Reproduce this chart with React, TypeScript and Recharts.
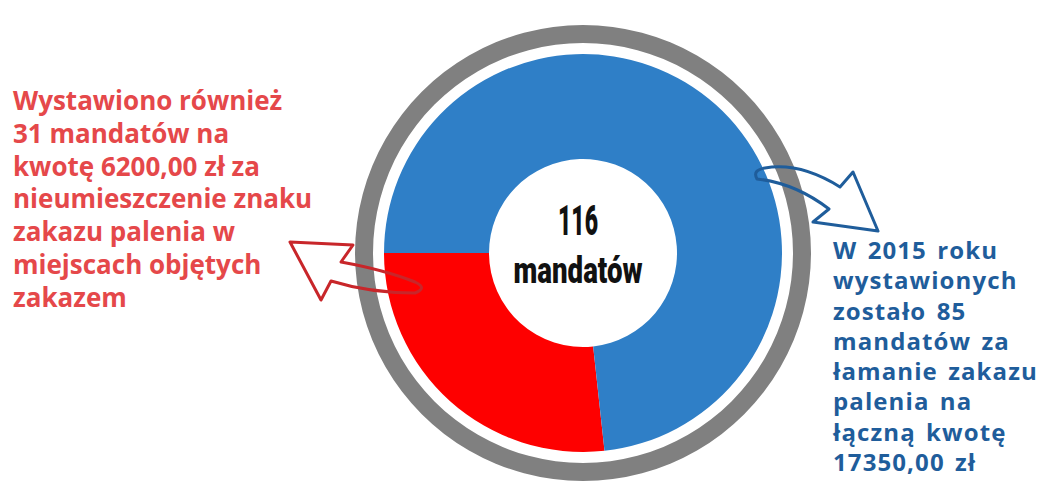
import React from 'react';
import { PieChart, Pie, Cell } from 'recharts';

const categories = ['Nieumieszczenie znaku zakazu palenia', 'Łamanie zakazu palenia'];
const ticketCounts = [31, 85];
const sliceColors = ['#fe0000', '#2f7fc7'];
const totalLabel = ['116', 'mandatów'];

const leftNote = [
  'Wystawiono również',
  '31 mandatów na',
  'kwotę 6200,00 zł za',
  'nieumieszczenie znaku',
  'zakazu palenia w',
  'miejscach objętych',
  'zakazem',
];

const rightNote = [
  'W 2015 roku',
  'wystawionych',
  'zostało 85',
  'mandatów za',
  'łamanie zakazu',
  'palenia na',
  'łączną kwotę',
  '17350,00 zł',
];

const data = categories.map((name, i) => ({ name, value: ticketCounts[i] }));
const ring = [{ name: 'total', value: ticketCounts.reduce((s, v) => s + v, 0) }];

const W = 1044;
const H = 493;
const CX = 578;
const CY = 248;

const noteFont = '"Open Sans", "DejaVu Sans", sans-serif';
const centerFont = 'Roboto, "DejaVu Sans", sans-serif';

export default function App() {
  return (
    <div style={{ position: 'relative', width: W, height: H, background: '#fff', overflow: 'hidden' }}>
      <style>{'body{margin:0}'}</style>
      <PieChart width={W} height={H}>
        <Pie
          data={ring}
          dataKey="value"
          cx={CX}
          cy={CY}
          innerRadius={210}
          outerRadius={228}
          fill="#808080"
          stroke="none"
          isAnimationActive={false}
        />
        <Pie
          data={data}
          dataKey="value"
          cx={CX}
          cy={CY}
          startAngle={180}
          endAngle={540}
          innerRadius={94}
          outerRadius={199}
          stroke="none"
          isAnimationActive={false}
        >
          {data.map((entry, index) => (
            <Cell key={`cell-${index}`} fill={sliceColors[index]} />
          ))}
        </Pie>
      </PieChart>

      {/* arrows + centre label */}
      <svg width={W} height={H} style={{ position: 'absolute', left: 0, top: 0, pointerEvents: 'none' }}>
        <path
          d="M 290 242 L 353 245 L 341 262 Q 385 270 415 282 Q 428 288 415 293 Q 370 293 331 281 L 321 300 Z"
          fill="none"
          stroke="#c8262a"
          strokeWidth={3}
          strokeLinejoin="round"
        />
        <path
          d="M 757 179 Q 752 170 765 168 Q 800 162 840 187 L 853 172 L 878 231 L 813 222 L 829 209 Q 795 183 757 179 Z"
          fill="none"
          stroke="#1f5d9b"
          strokeWidth={3}
          strokeLinejoin="round"
        />
        <text
          x={CX}
          y={235}
          textAnchor="middle"
          fontFamily={centerFont}
          fontWeight={900}
          fontSize={42}
          textLength={40}
          lengthAdjust="spacingAndGlyphs"
          fill="#111"
        >
          {totalLabel[0]}
        </text>
        <text
          x={CX}
          y={283}
          textAnchor="middle"
          fontFamily={centerFont}
          fontWeight={900}
          fontSize={36}
          textLength={129}
          lengthAdjust="spacingAndGlyphs"
          fill="#111"
        >
          {totalLabel[1]}
        </text>
      </svg>

      <div
        style={{
          position: 'absolute',
          left: 13,
          top: 84,
          fontFamily: noteFont,
          fontWeight: 700,
          fontSize: 26,
          lineHeight: '32.8px',
          color: '#e5484a',
          whiteSpace: 'pre',
        }}
      >
        {leftNote.map((l, i) => (
          <div key={i}>{l}</div>
        ))}
      </div>

      <div
        style={{
          position: 'absolute',
          left: 833,
          top: 235,
          fontFamily: noteFont,
          fontWeight: 700,
          fontSize: 24,
          lineHeight: '30.3px',
          letterSpacing: 1.1,
          wordSpacing: 3,
          color: '#1f5d9b',
          whiteSpace: 'pre',
        }}
      >
        {rightNote.map((l, i) => (
          <div key={i}>{l}</div>
        ))}
      </div>
    </div>
  );
}
